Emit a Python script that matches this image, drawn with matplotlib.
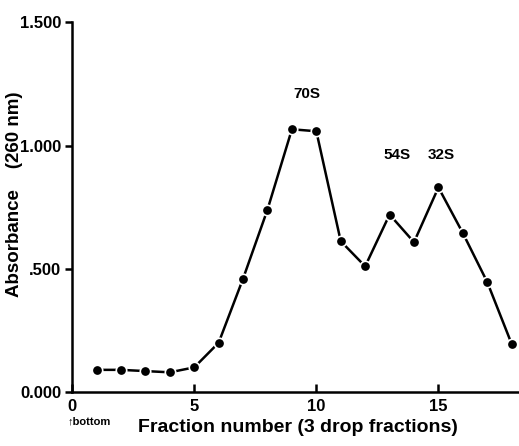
import matplotlib
matplotlib.use("Agg")
import matplotlib.pyplot as plt
from matplotlib.transforms import offset_copy

fractions = [1, 2, 3, 4, 5, 6, 7, 8, 9, 10, 11, 12, 13, 14, 15, 16, 17, 18]
absorbance = [0.09, 0.09, 0.085, 0.08, 0.10, 0.20, 0.46, 0.74, 1.066, 1.058,
              0.612, 0.51, 0.72, 0.608, 0.83, 0.645, 0.446, 0.195]
peak_labels = ["70S", "54S", "32S"]
peak_pos = [(9.6, 1.21), (13.3, 0.96), (15.1, 0.96)]
xticks = [0, 5, 10, 15]
yticks = [0.0, 0.5, 1.0, 1.5]
ytick_labels = ["0.000", ".500", "1.000", "1.500"]

plt.rcParams['font.family'] = ['Liberation Sans', 'DejaVu Sans']
plt.rcParams['font.weight'] = 'bold'

fig = plt.figure(figsize=(5.19, 4.46), dpi=100)
ax = fig.add_axes([0.139, 0.121, 0.861, 0.829])
ax.plot(fractions, absorbance, color='black', lw=1.8, marker='o', ms=7.5,
        mfc='black', mec='white', mew=1.2)
ax.set_xlim(0, 18.3)
ax.set_ylim(0, 1.5)
for s in ['top', 'right']:
    ax.spines[s].set_visible(False)
for s in ['left', 'bottom']:
    ax.spines[s].set_linewidth(1.8)
ax.set_xticks(xticks)
ax.set_xticklabels([str(t) for t in xticks], fontsize=12, fontweight='bold')
ax.set_yticks(yticks)
ax.set_yticklabels(ytick_labels, fontsize=12, fontweight='bold')
ax.tick_params(axis='x', direction='in', length=6, width=1.8, pad=5)
ax.tick_params(axis='y', direction='out', length=5, width=1.8, pad=3)
tr = offset_copy(ax.get_xaxis_transform(), fig=fig, x=-3, y=-17.5, units='points')
ax.text(0.0, 0.0, "↑bottom", fontsize=8, fontweight='bold', ha='left', va='top',
        transform=tr)
for lab, (x, y) in zip(peak_labels, peak_pos):
    ax.text(x, y, lab, fontsize=11, fontweight='bold', ha='center', va='center')
ax.set_xlabel("Fraction number (3 drop fractions)", fontsize=14, fontweight='bold')
ax.set_ylabel("Absorbance    (260 nm)", fontsize=13.5, fontweight='bold')
ax.xaxis.set_label_coords(0.506, -0.095)
ax.yaxis.set_label_coords(-0.128, 0.535)
ax.xaxis.label.set_va('center')
ax.yaxis.label.set_va('center')
fig.savefig("out.png", dpi=100)
